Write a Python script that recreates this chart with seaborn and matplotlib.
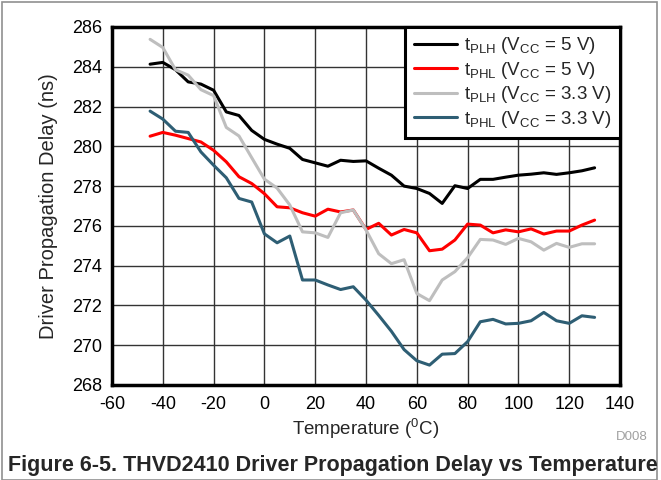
# Driver propagation delay vs temperature

import numpy as np
import pandas as pd
import matplotlib
matplotlib.use("Agg")
import matplotlib.pyplot as plt
import seaborn as sns


# Data (ns), every 5 degC from -45 to 130
temperature = list(range(-45, 131, 5))

tplh_5v = [284.13, 284.22, 283.85, 283.24, 283.13, 282.82, 281.73, 281.55, 280.8, 280.35,
           280.11, 279.9, 279.34, 279.17, 279.0, 279.3, 279.24, 279.27, 278.9, 278.55,
           278.0, 277.88, 277.63, 277.13, 278.02, 277.88, 278.34, 278.34, 278.45, 278.55,
           278.6, 278.67, 278.59, 278.67, 278.77, 278.92]

tphl_5v = [280.51, 280.7, 280.56, 280.39, 280.22, 279.8, 279.22, 278.47, 278.13, 277.62,
           276.96, 276.91, 276.66, 276.49, 276.84, 276.7, 276.8, 275.82, 276.13, 275.54,
           275.82, 275.65, 274.75, 274.83, 275.29, 276.09, 276.04, 275.65, 275.8, 275.7,
           275.85, 275.59, 275.74, 275.74, 276.04, 276.29]

tplh_33v = [285.38, 284.97, 283.85, 283.58, 282.85, 282.55, 280.95, 280.52, 279.43, 278.35,
            277.9, 277.05, 275.7, 275.65, 275.42, 276.66, 276.8, 275.8, 274.6, 274.1,
            274.3, 272.6, 272.24, 273.28, 273.7, 274.4, 275.32, 275.29, 275.07, 275.37,
            275.2, 274.78, 275.12, 274.92, 275.1, 275.1]

tphl_33v = [281.77, 281.37, 280.76, 280.7, 279.72, 279.05, 278.42, 277.38, 277.2, 275.6,
            275.15, 275.49, 273.28, 273.28, 273.03, 272.8, 272.94, 272.27, 271.5, 270.7,
            269.78, 269.22, 269.0, 269.55, 269.58, 270.18, 271.18, 271.3, 271.07, 271.1,
            271.23, 271.65, 271.23, 271.1, 271.48, 271.4]

series_names = [
    r"t$_\mathregular{PLH}$ (V$_\mathregular{CC}$ = 5 V)",
    r"t$_\mathregular{PHL}$ (V$_\mathregular{CC}$ = 5 V)",
    r"t$_\mathregular{PLH}$ (V$_\mathregular{CC}$ = 3.3 V)",
    r"t$_\mathregular{PHL}$ (V$_\mathregular{CC}$ = 3.3 V)",
]
series_colors = ["#000000", "#FF0000", "#BEBEBE", "#2E5E74"]

x_ticks = list(range(-60, 141, 20))
y_ticks = list(range(268, 287, 2))


# Long-form table for seaborn
frames = []
for name, values in zip(series_names, [tplh_5v, tphl_5v, tplh_33v, tphl_33v]):
    frames.append(pd.DataFrame({"Temperature": temperature, "Delay": values, "Series": name}))
data = pd.concat(frames, ignore_index=True)


sns.set_style("white")
plt.rcParams["font.family"] = ["Liberation Sans", "DejaVu Sans"]
plt.rcParams["mathtext.fontset"] = "custom"
plt.rcParams["mathtext.rm"] = "Liberation Sans"
plt.rcParams["axes.unicode_minus"] = False

fig = plt.figure(figsize=(6.61, 4.8), dpi=100)
ax = fig.add_axes([112 / 661, 1 - 385 / 480, 508 / 661, 358 / 480])

sns.lineplot(
    data=data,
    x="Temperature",
    y="Delay",
    hue="Series",
    hue_order=series_names,
    palette=series_colors,
    linewidth=2.2,
    ax=ax,
)

ax.set_xlim(-60, 140)
ax.set_ylim(268, 286)
ax.set_xticks(x_ticks)
ax.set_yticks(y_ticks)
ax.tick_params(axis="both", length=0, labelsize=13, colors="black")
ax.tick_params(axis="x", pad=8)
ax.tick_params(axis="y", pad=7)
ax.grid(True, color="#333333", linewidth=1.0)
ax.set_axisbelow(True)
for spine in ax.spines.values():
    spine.set_visible(True)
    spine.set_color("black")
    spine.set_linewidth(2.5)

ax.set_xlabel("Temperature ($\\mathregular{^0}$C)", fontsize=13.5, labelpad=3)
ax.set_ylabel("Driver Propagation Delay (ns)", fontsize=14.5, labelpad=10)

leg = ax.legend(
    loc="upper right",
    fontsize=13.5,
    frameon=True,
    fancybox=False,
    borderaxespad=0,
    handlelength=2.3,
    labelspacing=0.18,
    borderpad=0.45,
    handletextpad=0.4,
)
leg.get_frame().set_edgecolor("black")
leg.get_frame().set_linewidth(2.2)
leg.get_frame().set_alpha(1)
for line in leg.get_lines():
    line.set_linewidth(2.2)

fig.text(632 / 661, 1 - 437 / 480, "D008", fontsize=9.5, color="#A0A0A0", ha="center", va="center")
fig.text(8 / 661, 1 - 465 / 480, "Figure 6-5. THVD2410 Driver Propagation Delay vs Temperature",
         fontsize=15.5, fontweight="bold", ha="left", va="center")

# light frame around the figure
fig.add_artist(plt.Rectangle((1.5 / 661, 0), 655 / 661, 1 - 1.5 / 480, transform=fig.transFigure,
                             fill=False, edgecolor="#909090", linewidth=1.2))

fig.savefig("out.png", dpi=100)
